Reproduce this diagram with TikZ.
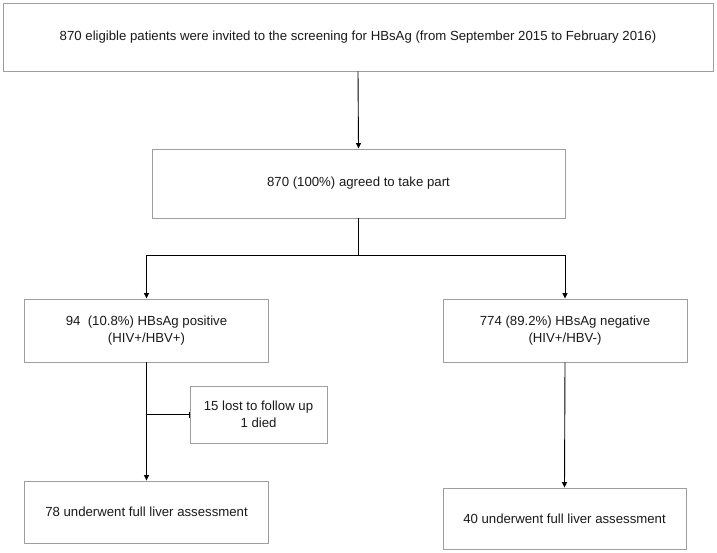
\documentclass[tikz,border=0pt]{standalone}
\usepackage{fontspec}
\setmainfont{Liberation Sans}
\usetikzlibrary{arrows.meta}
\begin{document}
\begin{tikzpicture}[x=1pt,y=-1pt,
  box/.style={draw=black!38, line width=0.9pt, rectangle, inner sep=0pt, align=center,
    font=\fontsize{13.2}{16.5}\selectfont, text=black!90},
  conn/.style={draw=black, line width=0.9pt},
  arr/.style={conn, -{Triangle[length=5.5pt,width=5pt]}},
  tick/.style={conn, -{Bar[width=6pt,line width=0.8pt]}}]
\useasboundingbox (0,0) rectangle (717,552);
\node[box, minimum width=710pt, minimum height=68pt] (b1) at (358,37) {870 eligible patients were invited to the screening for HBsAg (from September 2015 to February 2016)};
\node[box, minimum width=413pt, minimum height=69pt] (b2) at (358.5,183.5) {870 (100\%) agreed to take part};
\node[box, minimum width=244pt, minimum height=63pt] (b3) at (146.5,330.5) {94\ \ (10.8\%) HBsAg positive\\(HIV+/HBV+)};
\node[box, minimum width=244pt, minimum height=63pt] (b4) at (565,330.5) {774 (89.2\%) HBsAg negative\\(HIV+/HBV-)};
\node[box, minimum width=137pt, minimum height=57pt] (b5) at (258.5,414.5) {15 lost to follow up\\1 died};
\node[box, minimum width=244pt, minimum height=62pt] (b6) at (146.5,512) {78 underwent full liver assessment};
\node[box, minimum width=243pt, minimum height=61pt] (b7) at (564.5,518.5) {40 underwent full liver assessment};
\coordinate (j) at (358.5,255);
\coordinate (k) at (146.5,414.5);
\draw[arr] (b1.south) -- (b2.north);
\draw[conn] (b2.south) -- (j);
\draw[arr] (j) -| (b3.north);
\draw[arr] (j) -| (b4.north);
\draw[arr] (b3.south) -- (b6.north);
\draw[tick] (k) -- (b5.west);
\draw[arr] (b4.south) -- (b7.north);
\end{tikzpicture}
\end{document}
